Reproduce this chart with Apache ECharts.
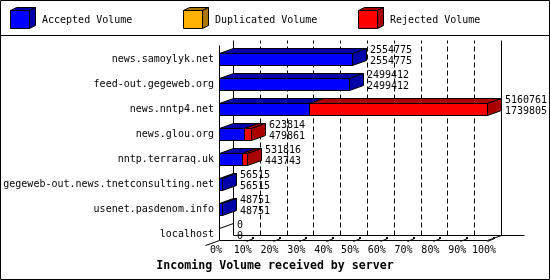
<!DOCTYPE html>
<html>
<head>
<meta charset="utf-8">
<script src="https://cdn.jsdelivr.net/npm/echarts@6/dist/echarts.min.js"></script>
<style>
  html, body { margin: 0; background: #fff; }
  #chart { width: 550px; height: 280px; }
</style>
</head>
<body>
<div id="chart"></div>
<script>
const hosts = [
    'news.samoylyk.net',
    'feed-out.gegeweb.org',
    'news.nntp4.net',
    'news.glou.org',
    'nntp.terraraq.uk',
    'gegeweb-out.news.tnetconsulting.net',
    'usenet.pasdenom.info',
    'localhost',
];
const totalVolume      = [2554775, 2499412, 5160761, 623814, 531816, 56515, 48751, 0];
const acceptedVolume   = [2554775, 2499412, 1739805, 479861, 443743, 56515, 48751, 0];
const duplicatedVolume = [0, 0, 0, 0, 0, 0, 0, 0];
const rejectedVolume   = [0, 0, 3420956, 143953, 88073, 0, 0, 0];
const seriesNames = ['Accepted Volume', 'Duplicated Volume', 'Rejected Volume'];
const percentTicks = [0, 10, 20, 30, 40, 50, 60, 70, 80, 90, 100];

const FONT   = 'DejaVu Sans Mono';
const COLORS = [['#0000ff', '#0000aa'], ['#ffb000', '#aa7600'], ['#ff0000', '#aa0000']];
const DX = 14, DY = 5, HALF = 6;   // fake 3D depth + half bar height

const maxVolume = Math.max(...totalVolume);
const pct = v => v / maxVolume * 100;
const px  = v => Math.round(v) + 0.5;  // crisp 1px lines

function poly(points, fill) {
    return {
        type: 'polygon',
        shape: { points: points.map(p => [px(p[0]), px(p[1])]) },
        style: { fill, stroke: '#000', lineWidth: 1 },
    };
}
function line(x1, y1, x2, y2, dash) {
    return {
        type: 'line',
        shape: { x1: px(x1), y1: px(y1), x2: px(x2), y2: px(y2) },
        style: { stroke: '#000', lineWidth: 1, lineDash: dash || null },
    };
}
function label(x, y, s) {
    return {
        type: 'text',
        style: { x, y, text: String(s), fill: '#000', font: `10px "${FONT}"`, verticalAlign: 'middle', align: 'left' },
    };
}

// walls, floor, dashed grid
function renderFrame(params, api) {
    const last  = hosts.length - 1;
    const x0    = api.coord([0, 0])[0];
    const x100  = api.coord([100, 0])[0];
    const top   = api.coord([0, 0])[1] - 19;
    const floor = api.coord([0, last])[1] + HALF;
    const c = [];
    percentTicks.slice(1, -1).forEach(p => {
        const x = api.coord([p, 0])[0] + DX;
        c.push(line(x, floor - DY, x, top, [5, 3]));
    });
    c.push(line(x0, top + DY, x0, floor));
    c.push(line(x0 + DX, top, x0 + DX, floor - DY));
    c.push(line(x100 + DX, top, x100 + DX, floor - DY));
    c.push(line(x0 + DX, floor - DY, x100 + DX + 23, floor - DY));
    c.push(line(x0, floor, x100, floor));
    c.push(line(x0 - DX, floor + DY, x0, floor));
    c.push(line(x100, floor, x100 + DX, floor - DY));
    percentTicks.slice(1).forEach(p => {
        const x = api.coord([p, 0])[0];
        c.push(line(x, floor + 1, x + 7, floor - 2));
        c.push({ type: 'rect', shape: { x: Math.round(x + 6), y: Math.round(floor - 3), width: 2, height: 2 }, style: { fill: '#000' } });
    });
    return { type: 'group', children: c };
}

function renderBar(params, api) {
    const i  = api.value(0);
    const x0 = api.coord([0, i])[0];
    const cy = api.coord([0, i])[1];
    const yt = cy - HALF, yb = cy + HALF;
    const c = [];
    let sum = 0, xs = x0, side = null;
    [1, 2, 3].forEach((k, s) => {
        const v = api.value(k);
        if (v <= 0) return;
        sum += v;
        const xe = api.coord([sum, i])[0];
        c.push(poly([[xs, yt], [xe, yt], [xe, yb], [xs, yb]], COLORS[s][0]));
        c.push(poly([[xs, yt], [xs + DX, yt - DY], [xe + DX, yt - DY], [xe, yt]], COLORS[s][1]));
        xs = xe;
        side = COLORS[s][1];
    });
    if (side) {
        c.push(poly([[xs, yt], [xs + DX, yt - DY], [xs + DX, yb - DY], [xs, yb]], side));
    } else {
        c.push(line(x0, yt, x0 + DX, yt - DY));
    }
    c.push(label(Math.round(xs + 18), cy - 9, api.value(4)));
    c.push(label(Math.round(xs + 18), cy + 2, api.value(5)));
    return { type: 'group', children: c };
}

// legend drawn as 3D cubes
const legendX = [10, 183, 358];
const legendItems = [];
seriesNames.forEach((name, s) => {
    const x = legendX[s], y = 10, w = 19, h = 18, dx = 6, dy = 3;
    legendItems.push(poly([[x, y], [x + dx, y - dy], [x + w + dx, y - dy], [x + w, y]], COLORS[s][1]));
    legendItems.push(poly([[x + w, y], [x + w + dx, y - dy], [x + w + dx, y + h - dy], [x + w, y + h]], COLORS[s][1]));
    legendItems.push(poly([[x, y], [x + w, y], [x + w, y + h], [x, y + h]], COLORS[s][0]));
    legendItems.push(label(x + 32, 20, name));
});

const chart = echarts.init(document.getElementById('chart'), null, { renderer: 'canvas' });
chart.setOption({
    animation: false,
    backgroundColor: '#fff',
    title: {
        text: 'Incoming Volume received by server',
        left: 'center', top: 260, padding: 0,
        textStyle: { fontFamily: FONT, fontSize: 11.6, fontWeight: 'bold', color: '#000' },
    },
    grid: { left: 219, width: 268, top: 46.5, height: 200 },
    xAxis: {
        type: 'value', min: 0, max: 100, interval: 10,
        axisLine: { show: false }, axisTick: { show: false }, splitLine: { show: false },
        axisLabel: {
            margin: -1, padding: [0, 6, 0, 0],
            formatter: '{value}%', fontFamily: FONT, fontSize: 10, color: '#000',
        },
    },
    yAxis: {
        type: 'category', data: hosts, inverse: true,
        axisLine: { show: false }, axisTick: { show: false }, splitLine: { show: false },
        axisLabel: { margin: 5, fontFamily: FONT, fontSize: 10, color: '#000' },
    },
    graphic: [
        { type: 'rect', shape: { x: 0.5, y: 0.5, width: 549, height: 279 }, style: { fill: null, stroke: '#000', lineWidth: 1 }, z: 100 },
        { type: 'line', shape: { x1: 0, y1: 35.5, x2: 550, y2: 35.5 }, style: { stroke: '#000', lineWidth: 1 }, z: 100 },
        { type: 'group', children: legendItems },
    ],
    series: [
        { type: 'custom', name: 'frame', z: 1, renderItem: renderFrame, data: [[0]], silent: true },
        {
            type: 'custom', name: 'volume', z: 2, renderItem: renderBar, silent: true,
            encode: { x: [1, 2, 3], y: 0 },
            data: hosts.map((h, i) => [i, pct(acceptedVolume[i]), pct(duplicatedVolume[i]), pct(rejectedVolume[i]), totalVolume[i], acceptedVolume[i]]),
        },
    ],
});
</script>
</body>
</html>
